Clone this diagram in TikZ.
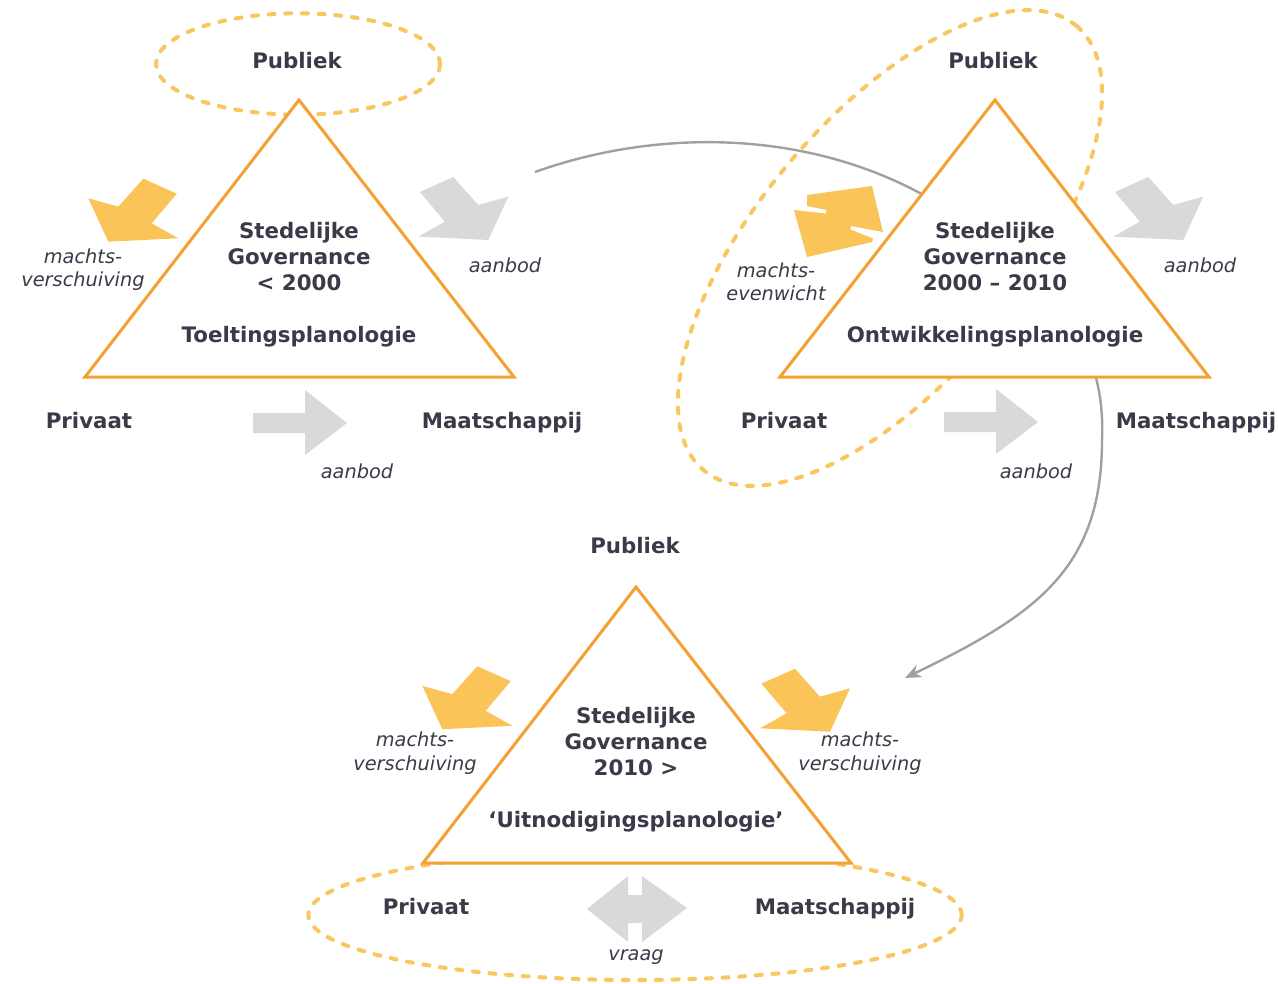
\documentclass[tikz,border=0pt]{standalone}
\usepackage{fontspec}
\setmainfont{DejaVu Sans}
\usetikzlibrary{arrows.meta}
\definecolor{trior}{RGB}{244,160,50}
\definecolor{dashor}{RGB}{249,198,96}
\definecolor{yarrow}{RGB}{250,196,88}
\definecolor{garrow}{RGB}{217,217,217}
\definecolor{curvegrey}{RGB}{160,160,160}
\definecolor{txt}{RGB}{58,58,72}
\begin{document}
\begin{tikzpicture}[x=0.75pt,y=-0.75pt,
  tri/.style={draw=trior,line width=2.25pt,fill=white,line join=miter},
  dashell/.style={draw=dashor,line width=3pt,dash pattern=on 4.5pt off 8pt,line cap=round},
  lbl/.style={text=txt,font=\bfseries\fontsize{16}{19.5}\selectfont,inner sep=0pt,anchor=base},
  ttl/.style={text=txt,font=\bfseries\fontsize{16}{19.5}\selectfont,align=center,inner sep=0pt},
  itl/.style={text=txt,font=\itshape\fontsize{14.5}{17.5}\selectfont,align=center,inner sep=0pt},
  conn/.style={draw=curvegrey,line width=1.8pt,-{Stealth[length=12pt,width=10pt]}},
  pics/bentarrow/.style={code={\fill[#1] (35,-63) -- (68.5,-48) -- (43.4,-18.4) -- (70,-3.4) -- (0,0) -- (-20,-43.4) -- (10,-35) -- cycle;}},
  pics/straightarrow/.style={code={\fill[#1] (-94,-10) -- (-42,-10) -- (-42,-33) -- (0,0) -- (-42,32) -- (-42,10) -- (-94,10) -- cycle;}},
]
\useasboundingbox (0,0) rectangle (1278,984);

% dashed ellipses
\draw[dashell] (298,64) ellipse [x radius=106.5pt, y radius=38pt];
\draw[dashell, rotate around={50:(890,248)}] (890,248) ellipse [x radius=217.5pt, y radius=99pt];
\draw[dashell] (635,915) ellipse [x radius=245pt, y radius=48.75pt];

% grey connector
\coordinate (cs) at (535,172);
\coordinate (ce) at (905,678);
\draw[conn] (cs) .. controls (680,120) and (870,130) .. (1000,250)
  .. controls (1080,310) and (1105,370) .. (1102,440)
  .. controls (1102,570) and (1035,615) .. (ce);

% triangles
\draw[tri] (299,100) -- (514,377) -- (85,377) -- cycle;
\draw[tri] (995,100) -- (1209,377) -- (780,377) -- cycle;
\draw[tri] (636,587) -- (851,863) -- (423,863) -- cycle;

% block arrows
\pic at (108.3,241.7) {bentarrow=yarrow};
\pic[xscale=-1] at (488.3,240) {bentarrow=garrow};
\pic[xscale=-1] at (1183.3,240) {bentarrow=garrow};
\pic at (442.3,729.2) {bentarrow=yarrow};
\pic[xscale=-1] at (830,731.7) {bentarrow=yarrow};
\pic at (347,423) {straightarrow=garrow};
\pic at (1038,422) {straightarrow=garrow};

% double arrow (machts-evenwicht)
\fill[yarrow] (807,195) -- (872,186) -- (883,232) -- (851,226) -- (850.5,229.5)
  -- (873,238.5) -- (872,242) -- (807,257) -- (794,210) -- (826,213.5)
  -- (826.5,210) -- (807,206) -- cycle;
% double arrow (vraag)
\fill[garrow] (587,909) -- (628,876) -- (628,895) -- (642,895) -- (642,876) -- (687,908)
  -- (642,942) -- (642,923) -- (628,923) -- (628,942) -- cycle;

% labels
\node[lbl] (pub1) at (297,68.5) {Publiek};
\node[lbl] (pub2) at (993,68.5) {Publiek};
\node[lbl] (pub3) at (635,553.5) {Publiek};
\node[lbl] (pri1) at (89,428.5) {Privaat};
\node[lbl] (pri2) at (784,428.5) {Privaat};
\node[lbl] (pri3) at (426,914.5) {Privaat};
\node[lbl] (maa1) at (502,428.5) {Maatschappij};
\node[lbl] (maa2) at (1196,428.5) {Maatschappij};
\node[lbl] (maa3) at (835,914.5) {Maatschappij};

\node[ttl] (t1) at (299,285) {Stedelijke\\Governance\\< 2000\\[19.5pt]Toeltingsplanologie};
\node[ttl] (t2) at (995,285) {Stedelijke\\Governance\\2000 – 2010\\[19.5pt]Ontwikkelingsplanologie};
\node[ttl] (t3) at (636,770) {Stedelijke\\Governance\\2010 >\\[19.5pt]‘Uitnodigingsplanologie’};

\node[itl] (m1) at (83,270) {machts-\\verschuiving};
\node[itl] (a1) at (505,265) {aanbod};
\node[itl] (a2) at (357,471) {aanbod};
\node[itl] (m2) at (776,282) {machts-\\evenwicht};
\node[itl] (a3) at (1200,265) {aanbod};
\node[itl] (a4) at (1036,471) {aanbod};
\node[itl] (m3) at (415,753) {machts-\\verschuiving};
\node[itl] (m4) at (860,753) {machts-\\verschuiving};
\node[itl] (v1) at (636,957) {vraag};
\end{tikzpicture}
\end{document}
